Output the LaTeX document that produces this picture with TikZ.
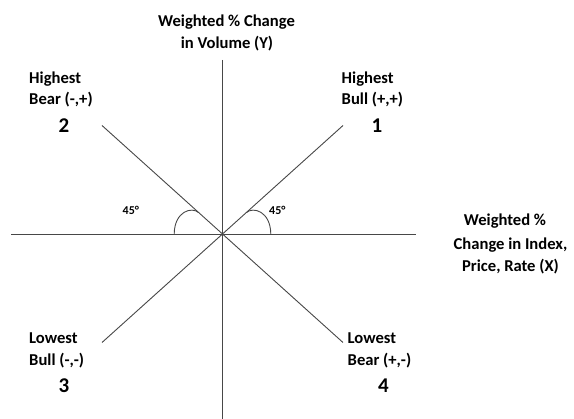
\documentclass[tikz,border=0pt]{standalone}
\usepackage{fontspec}
\setmainfont{Carlito}
\usepackage{tikz}

\begin{document}
\begin{tikzpicture}[x=1pt,y=-1pt,
	axis/.style={draw=black!72,line width=0.9pt},
	lbl/.style={inner sep=0pt,anchor=base west,font=\bfseries\fontsize{16.6}{19}\selectfont},
	num/.style={inner sep=0pt,anchor=base,font=\bfseries\fontsize{21}{24}\selectfont},
	deg/.style={inner sep=0pt,anchor=base west,font=\bfseries\fontsize{12}{14}\selectfont}]
	\useasboundingbox (0,0) rectangle (574,419);
	\coordinate (O) at (222.5,234);
	\coordinate (yTop) at (222.5,60);
	\coordinate (yBot) at (222.5,419);
	\coordinate (xL) at (11,234);
	\coordinate (xR) at (415.5,234);
	\coordinate (q1) at (343,125.5);
	\coordinate (q2) at (102,125.5);
	\coordinate (q3) at (102,342.5);
	\coordinate (q4) at (343,342.5);
	\draw[axis] (yTop) -- (yBot);
	\draw[axis] (xL) -- (xR);
	\draw[axis] (q1) -- (q3);
	\draw[axis] (q2) -- (q4);
	% angle marks
	\coordinate (a1) at (246.3,212.6);
	\coordinate (b1) at (270.8,234);
	\coordinate (a2) at (198.7,212.6);
	\coordinate (b2) at (174.2,234);
	\draw[axis] (a1) .. controls (253,206.5) and (270.5,211) .. (b1);
	\draw[axis] (a2) .. controls (192,206.5) and (174.5,211) .. (b2);
	\node[deg] (d1) at (269,214.5) {45°};
	\node[deg] (d2) at (122.5,214.5) {45°};
	% axis titles
	\node[lbl,anchor=base] (yt1) at (226.5,27) {Weighted \% Change};
	\node[lbl,anchor=base] (yt2) at (227,49) {in Volume (Y)};
	\node[lbl,anchor=base] (xt1) at (505,226) {Weighted \%};
	\node[lbl,anchor=base] (xt2) at (510.5,250) {Change in Index,};
	\node[lbl,anchor=base] (xt3) at (510.5,272) {Price, Rate (X)};
	% quadrants
	\node[lbl] (hb1) at (29,83.5) {Highest};
	\node[lbl] (hb2) at (29,105) {Bear (-,+)};
	\node[num] (n2) at (64,133) {2};
	\node[lbl] (hu1) at (341.5,83.5) {Highest};
	\node[lbl] (hu2) at (341.5,105) {Bull (+,+)};
	\node[num] (n1) at (377,133) {1};
	\node[lbl] (lu1) at (29,344) {Lowest};
	\node[lbl] (lu2) at (29,366) {Bull (-,-)};
	\node[num] (n3) at (64,393) {3};
	\node[lbl] (lb1) at (347.5,344) {Lowest};
	\node[lbl] (lb2) at (347.5,366) {Bear (+,-)};
	\node[num] (n4) at (383.5,393) {4};
\end{tikzpicture}
\end{document}
